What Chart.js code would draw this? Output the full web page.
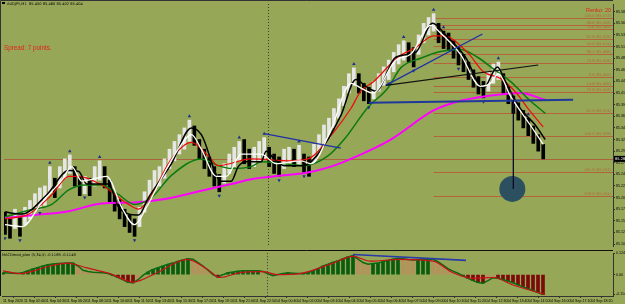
<!DOCTYPE html>
<html>
<head>
<meta charset="utf-8">
<script src="https://cdn.jsdelivr.net/npm/chart.js@4.4.0/dist/chart.umd.min.js"></script>
<style>
  body { margin: 0; background: #96a858; width: 625px; height: 304px; overflow: hidden; position: relative; }
  #main { position: absolute; left: 0; top: 0; }
  #osc { position: absolute; left: 0; top: 250px; }
</style>
</head>
<body>
<canvas id="main" width="625" height="250"></canvas>
<canvas id="osc" width="625" height="54"></canvas>
<script>
// bars, one per index
const highs = [
  85.170, 85.156, 85.176, 85.160, 85.180, 85.194, 85.208, 85.220, 85.224, 85.264,
  85.240, 85.264, 85.280, 85.288, 85.264, 85.244, 85.244, 85.240, 85.264, 85.276,
  85.264, 85.236, 85.210, 85.196, 85.176, 85.164, 85.156, 85.180, 85.212, 85.236,
  85.256, 85.264, 85.280, 85.300, 85.316, 85.330, 85.344, 85.360, 85.348, 85.320,
  85.300, 85.284, 85.264, 85.248, 85.270, 85.290, 85.304, 85.316, 85.320, 85.300,
  85.304, 85.316, 85.324, 85.304, 85.290, 85.284, 85.300, 85.304, 85.300, 85.308,
  85.290, 85.284, 85.310, 85.330, 85.350, 85.364, 85.384, 85.404, 85.430, 85.456,
  85.468, 85.456, 85.436, 85.428, 85.440, 85.456, 85.470, 85.484, 85.500, 85.516,
  85.524, 85.520, 85.510, 85.536, 85.560, 85.572, 85.580, 85.560, 85.544, 85.540,
  85.524, 85.510, 85.496, 85.480, 85.464, 85.450, 85.440, 85.460, 85.476, 85.480,
  85.456, 85.430, 85.410, 85.396, 85.380, 85.364, 85.348, 85.330, 85.310
];
const lows = [
  85.124, 85.116, 85.136, 85.120, 85.144, 85.156, 85.172, 85.176, 85.184, 85.210,
  85.200, 85.220, 85.240, 85.250, 85.224, 85.204, 85.208, 85.204, 85.224, 85.236,
  85.220, 85.190, 85.172, 85.156, 85.140, 85.128, 85.120, 85.140, 85.170, 85.196,
  85.216, 85.224, 85.240, 85.260, 85.276, 85.290, 85.300, 85.316, 85.308, 85.280,
  85.260, 85.244, 85.224, 85.212, 85.230, 85.250, 85.264, 85.276, 85.270, 85.260,
  85.264, 85.276, 85.280, 85.264, 85.250, 85.244, 85.260, 85.268, 85.264, 85.268,
  85.252, 85.244, 85.270, 85.290, 85.310, 85.324, 85.344, 85.364, 85.390, 85.416,
  85.432, 85.416, 85.400, 85.394, 85.404, 85.420, 85.432, 85.444, 85.460, 85.476,
  85.484, 85.480, 85.470, 85.496, 85.520, 85.536, 85.544, 85.520, 85.508, 85.504,
  85.488, 85.474, 85.460, 85.444, 85.428, 85.414, 85.406, 85.420, 85.436, 85.444,
  85.416, 85.394, 85.374, 85.360, 85.344, 85.328, 85.312, 85.296, 85.280
];

// moving averages as [bar index, price]
const maWhite = [[0,85.144],[3.4,85.140],[7.4,85.190],[11.4,85.236],[13.4,85.264],[15.4,85.234],[18.4,85.240],[20.4,85.244],[23.4,85.180],[26,85.144],[28.4,85.180],[31.4,85.240],[35.4,85.310],[37.4,85.330],[39.4,85.300],[42.4,85.244],[44.4,85.244],[47.4,85.290],[51.4,85.290],[54.4,85.270],[59.4,85.276],[61.4,85.270],[65.4,85.340],[69.4,85.436],[71.8,85.424],[73.8,85.416],[78.4,85.484],[81.4,85.496],[85.4,85.556],[87.4,85.540],[91.4,85.496],[95.4,85.430],[97.4,85.436],[99,85.456],[101.4,85.410],[105.4,85.350],[108,85.310]];
const maBlack = [[0,85.170],[3.4,85.166],[8.4,85.206],[12.8,85.256],[14.8,85.254],[16.4,85.228],[20.8,85.228],[22.8,85.180],[26.8,85.164],[28.8,85.200],[33.4,85.270],[37.4,85.344],[39.4,85.330],[43.4,85.234],[45.4,85.234],[46.8,85.264],[48.4,85.274],[51.4,85.274],[52.4,85.296],[54,85.280],[56,85.266],[60,85.266],[62.8,85.290],[67.4,85.370],[70.4,85.444],[72.4,85.430],[74.4,85.420],[78.4,85.490],[82.4,85.500],[85.8,85.560],[88.4,85.536],[92.4,85.490],[96,85.426],[98.8,85.470],[100.4,85.440],[103.4,85.384],[106.4,85.350],[108.4,85.320]];
const maRed = [[0,85.156],[4.8,85.166],[9.4,85.206],[12.8,85.244],[14.8,85.244],[19.4,85.226],[24.8,85.186],[26.8,85.176],[29.4,85.206],[33.4,85.280],[37.4,85.314],[40.8,85.286],[42.8,85.266],[49.4,85.280],[57.4,85.276],[60.8,85.280],[66,85.336],[69.4,85.384],[71.4,85.420],[74,85.440],[78.8,85.490],[82.4,85.510],[86,85.534],[88,85.534],[92.8,85.500],[96,85.460],[99.4,85.446],[102.8,85.414],[104.8,85.386],[108,85.346]];
const maGreen = [[0,85.160],[4.8,85.174],[9.4,85.186],[12.8,85.216],[16,85.226],[19.4,85.226],[22.8,85.206],[26,85.186],[29.4,85.200],[33.4,85.246],[39.4,85.280],[42.8,85.266],[45.4,85.260],[49.4,85.264],[51.4,85.274],[56,85.270],[60,85.266],[64.8,85.286],[68.2,85.322],[72.8,85.386],[76.8,85.426],[79.4,85.468],[83.4,85.488],[87.4,85.502],[91.4,85.506],[94.8,85.490],[98,85.466],[101.4,85.440],[105.4,85.400],[108.4,85.374]];
const maMagenta = [[0,85.158],[6,85.164],[12.8,85.172],[19.4,85.188],[26,85.190],[31.4,85.196],[39.4,85.214],[45.4,85.228],[49.4,85.238],[56,85.246],[60.8,85.252],[65.4,85.264],[69.4,85.280],[77.4,85.320],[86,85.380],[91.4,85.400],[96.8,85.410],[103.4,85.416],[108.4,85.402]];

const upFractals = [9, 13, 19, 37, 47, 52, 59, 70, 80, 86, 88, 99, 105];
const downFractals = [0, 3, 7, 16, 26, 43, 55, 60, 73, 77, 82, 91, 96];

const fibNames = ["100.0", "88.6", "78.6", "61.8", "50.0", "38.2", "23.6", "0.0", "14.6", "23.6", "61.8", "100.0", "161.8", "200.0"];
const fibPrices = [85.572, 85.556, 85.548, 85.528, 85.514, 85.496, 85.478, 85.450, 85.430, 85.418, 85.374, 85.328, 85.252, 85.204];
const fibStart = 86;

const yTickVals = [85.584, 85.560, 85.536, 85.512, 85.488, 85.464, 85.440, 85.416, 85.392, 85.368, 85.344, 85.320, 85.296, 85.272, 85.248, 85.224, 85.200, 85.176, 85.152, 85.128, 85.104];
const lastPrice = 85.280;
const sepIdx = 52.8;

const blueLine1 = [[52, 85.332], [67.4, 85.302]];
const blueLine2 = [[76.4, 85.432], [95.8, 85.538]];
const blackLine = [[76.4, 85.432], [107, 85.474]];
const supportLine = [[73, 85.396], [114, 85.402]];
const targetLine = [[102, 85.402], [102, 85.218]];
const targetCircle = [101.8, 85.218];

// oscillator
const hist = [
  0.010, 0.009, 0.008, 0.006, 0.012, 0.022, 0.033, 0.042, 0.050, 0.058,
  0.062, 0.064, 0.066, 0.067, 0.067, 0.050, 0.025, 0.018, 0.014, 0.012,
  0.010, 0.006, -0.005, -0.018, -0.030, -0.045, -0.048, -0.030, -0.005, 0.015,
  0.030, 0.040, 0.050, 0.060, 0.067, 0.078, 0.085, 0.093, 0.090, 0.070,
  0.050, 0.025, 0.000, -0.015, 0.000, 0.011, 0.015, 0.020, 0.022, 0.022,
  0.022, 0.022, 0.018, 0.005, -0.006, 0.000, 0.006, 0.010, 0.008, 0.006,
  0.006, 0.010, 0.022, 0.035, 0.050, 0.060, 0.072, 0.080, 0.092, 0.103,
  0.111, 0.090, 0.070, 0.061, 0.064, 0.067, 0.075, 0.082, 0.090, 0.095,
  0.092, 0.088, 0.085, 0.087, 0.089, 0.090, 0.089, 0.075, 0.055, 0.035,
  0.020, 0.008, -0.008, -0.022, -0.035, -0.046, -0.050, -0.035, -0.018, -0.022,
  -0.030, -0.038, -0.048, -0.060, -0.072, -0.082, -0.093, -0.105, -0.117
];
const signal = [[0,0.022],[3.4,0.006],[9.4,0.050],[12.8,0.067],[16.8,0.039],[21.4,0.006],[26,-0.044],[30.8,0.011],[36.8,0.089],[40.8,0.033],[43.4,-0.017],[47.4,0.011],[52,0.017],[54.8,0.000],[59.4,0.006],[66,0.067],[70,0.106],[73.4,0.078],[79.4,0.089],[86,0.078],[90,0.011],[94,-0.022],[98,-0.017],[102,-0.061],[108.4,-0.117]];
const oscTrend = [[70, 0.117], [92.6, 0.083]];
const oscTickVals = [0.1249, 0, -0.1148];
const oscTickText = ["0.1249", "0.00", "-0.1148"];

const dateLabels = ["11 Sep 2020", "11 Sep 02:40", "11 Sep 04:30", "11 Sep 06:20", "11 Sep 08:10", "11 Sep 10:00", "11 Sep 11:50", "11 Sep 13:40", "11 Sep 15:30", "11 Sep 17:20", "11 Sep 19:10", "11 Sep 21:00", "11 Sep 22:50", "14 Sep 00:40", "14 Sep 02:00", "14 Sep 03:10", "14 Sep 04:20", "14 Sep 05:30", "14 Sep 06:40", "14 Sep 07:50", "14 Sep 09:00", "14 Sep 10:10", "14 Sep 11:20", "14 Sep 12:30", "14 Sep 13:40", "14 Sep 14:50", "14 Sep 16:00", "14 Sep 17:10", "14 Sep 18:20"];

const xMin = -0.2, xMax = 122;
const bg = "#96a858";

function pts(arr) {
  return arr.map((p) => ({ x: p[0], y: p[1] }));
}

function line(chart, a, b, color, width) {
  let ctx = chart.ctx;
  ctx.beginPath();
  ctx.strokeStyle = color;
  ctx.lineWidth = width;
  ctx.moveTo(chart.scales.x.getPixelForValue(a[0]), chart.scales.y.getPixelForValue(a[1]));
  ctx.lineTo(chart.scales.x.getPixelForValue(b[0]), chart.scales.y.getPixelForValue(b[1]));
  ctx.stroke();
}

function separator(chart) {
  let ctx = chart.ctx;
  let x = Math.round(chart.scales.x.getPixelForValue(sepIdx)) + 0.5;
  ctx.save();
  ctx.setLineDash([1, 2]);
  ctx.strokeStyle = "#3a3a3a";
  ctx.lineWidth = 1;
  ctx.beginPath();
  ctx.moveTo(x, chart.chartArea.top);
  ctx.lineTo(x, chart.chartArea.bottom);
  ctx.stroke();
  ctx.restore();
}

let barColors = highs.map((h, i) => {
  if (i == 0) return "#000000";
  return h + lows[i] > highs[i - 1] + lows[i - 1] ? "#e6e6e6" : "#000000";
});

let histColors = hist.map((v, i) => {
  let prev = i > 0 ? hist[i - 1] : 0;
  if (v >= 0) return v >= prev ? "#0c5c10" : "#b8905c";
  return v < prev ? "#7c0a0a" : "#b8905c";
});

let mainDraw = {
  id: "mainDraw",
  beforeDraw(chart) {
    let ctx = chart.ctx;
    ctx.fillStyle = bg;
    ctx.fillRect(0, 0, chart.width, chart.height);
  },
  beforeDatasetsDraw(chart) {
    let ctx = chart.ctx;
    let a = chart.chartArea;
    // price line
    let py = Math.round(chart.scales.y.getPixelForValue(lastPrice)) + 0.5;
    ctx.strokeStyle = "#a8643a";
    ctx.lineWidth = 1;
    ctx.beginPath();
    ctx.moveTo(a.left, py);
    ctx.lineTo(a.right, py);
    ctx.stroke();
    // fibo levels
    let fx = chart.scales.x.getPixelForValue(fibStart);
    ctx.font = "3.6px 'DejaVu Sans'";
    ctx.textAlign = "right";
    ctx.textBaseline = "bottom";
    fibPrices.forEach((p, k) => {
      let y = Math.round(chart.scales.y.getPixelForValue(p)) + 0.5;
      ctx.strokeStyle = "#b4643a";
      ctx.beginPath();
      ctx.moveTo(fx, y);
      ctx.lineTo(a.right, y);
      ctx.stroke();
      ctx.fillStyle = "#b4643a";
      ctx.fillText(fibNames[k] + " (" + p.toFixed(3) + ")", a.right - 2, y - 0.5);
    });
    separator(chart);
  },
  afterDatasetsDraw(chart) {
    let ctx = chart.ctx;
    let a = chart.chartArea;
    line(chart, blueLine1[0], blueLine1[1], "#1f2fa8", 1.3);
    line(chart, blueLine2[0], blueLine2[1], "#1f2fa8", 1.3);
    line(chart, blackLine[0], blackLine[1], "#101010", 1.2);
    line(chart, supportLine[0], supportLine[1], "#20389a", 2);
    // target circle
    ctx.beginPath();
    ctx.fillStyle = "#2d5060";
    ctx.arc(chart.scales.x.getPixelForValue(targetCircle[0]), chart.scales.y.getPixelForValue(targetCircle[1]), 13, 0, Math.PI * 2);
    ctx.fill();
    line(chart, targetLine[0], targetLine[1], "#0a0a30", 1.3);

    // texts
    ctx.textBaseline = "alphabetic";
    ctx.textAlign = "left";
    ctx.fillStyle = "#000";
    ctx.fillRect(2, 2, 3, 2);
    ctx.font = "3.6px 'DejaVu Sans'";
    ctx.fillText("AUDJPY,M1  85.450 85.460 85.402 85.404", 7, 5);
    ctx.fillStyle = "#e41e1e";
    ctx.font = "6.3px 'Liberation Sans'";
    ctx.fillText("Spread: 7 points.", 4, 50);
    ctx.textAlign = "right";
    ctx.font = "5.5px 'Liberation Sans'";
    ctx.fillText("Renko: 20", a.right - 2, 12);

    // frame
    ctx.strokeStyle = "#333";
    ctx.lineWidth = 1;
    ctx.beginPath();
    ctx.moveTo(0.5, chart.height);
    ctx.lineTo(0.5, 0.5);
    ctx.lineTo(a.right, 0.5);
    ctx.stroke();
  },
  afterDraw(chart) {
    let ctx = chart.ctx;
    let a = chart.chartArea;
    let py = chart.scales.y.getPixelForValue(lastPrice);
    ctx.fillStyle = "#000";
    ctx.fillRect(a.right + 1, py - 3, 12, 6);
    ctx.fillStyle = "#fff";
    ctx.font = "3.6px 'DejaVu Sans'";
    ctx.textAlign = "left";
    ctx.textBaseline = "middle";
    ctx.fillText(lastPrice.toFixed(3), a.right + 2, py);
  }
};

let lineDs = (data, color, width, order) => ({
  type: "line",
  data: pts(data),
  borderColor: color,
  borderWidth: width,
  pointRadius: 0,
  tension: 0.35,
  cubicInterpolationMode: "monotone",
  order: order
});

var ctx = document.getElementById("main").getContext("2d");
var mainChart = new Chart(ctx, {
  type: "bar",
  data: {
    datasets: [
      {
        label: "bars",
        data: highs.map((h, i) => ({ x: i, y: [lows[i], h] })),
        backgroundColor: barColors,
        barThickness: 3,
        order: 10
      },
      lineDs(maMagenta, "#ff00ff", 2, 6),
      lineDs(maGreen, "#0c7a10", 1.5, 5),
      lineDs(maRed, "#ee0a0a", 1.2, 4),
      lineDs(maBlack, "#000000", 1.5, 3),
      lineDs(maWhite, "#ffffff", 1.3, 2),
      {
        type: "line",
        showLine: false,
        data: upFractals.map((i) => ({ x: i, y: highs[i] + 0.008 })),
        pointStyle: "triangle",
        pointRadius: 2,
        backgroundColor: "#1d2f8a",
        borderWidth: 0,
        order: 0
      },
      {
        type: "line",
        showLine: false,
        data: downFractals.map((i) => ({ x: i, y: lows[i] - 0.008 })),
        pointStyle: "triangle",
        rotation: 180,
        pointRadius: 2,
        backgroundColor: "#1d2f8a",
        borderWidth: 0,
        order: 0
      }
    ]
  },
  options: {
    responsive: false,
    animation: false,
    layout: { padding: { left: 2, top: 0, right: 0, bottom: 0 } },
    plugins: { legend: { display: false }, tooltip: { enabled: false } },
    scales: {
      x: { type: "linear", min: xMin, max: xMax, offset: false, display: false },
      y: {
        position: "right",
        min: 85.1,
        max: 85.6,
        afterFit: (s) => { s.width = 12; },
        afterBuildTicks: (s) => { s.ticks = yTickVals.map((v) => ({ value: v })); },
        ticks: { font: { size: 3.6 }, color: "#000", padding: 1, callback: (v) => v.toFixed(3) },
        grid: { drawOnChartArea: false, tickLength: 2, color: "#333" },
        border: { display: true, color: "#333" }
      }
    }
  },
  plugins: [mainDraw]
});

let oscDraw = {
  id: "oscDraw",
  beforeDraw(chart) {
    let ctx = chart.ctx;
    ctx.fillStyle = bg;
    ctx.fillRect(0, 0, chart.width, chart.height);
  },
  beforeDatasetsDraw(chart) {
    separator(chart);
  },
  afterDatasetsDraw(chart) {
    let ctx = chart.ctx;
    let a = chart.chartArea;
    line(chart, oscTrend[0], oscTrend[1], "#2a3aa8", 1.6);
    ctx.strokeStyle = "#111";
    ctx.lineWidth = 1;
    ctx.beginPath();
    ctx.moveTo(0, 0.5);
    ctx.lineTo(a.right, 0.5);
    ctx.moveTo(0.5, 0);
    ctx.lineTo(0.5, a.bottom);
    ctx.stroke();
    ctx.fillStyle = "#000";
    ctx.font = "3.6px 'DejaVu Sans'";
    ctx.textAlign = "left";
    ctx.textBaseline = "alphabetic";
    ctx.fillText("MACDmod_plan (5,34,5) -0.1169 -0.1148", 2, 6);
  }
};

var ctx2 = document.getElementById("osc").getContext("2d");
var oscChart = new Chart(ctx2, {
  type: "bar",
  data: {
    datasets: [
      {
        label: "hist",
        data: hist.map((v, i) => ({ x: i, y: v })),
        backgroundColor: histColors,
        barThickness: 3,
        order: 5
      },
      {
        type: "line",
        data: hist.map((v, i) => ({ x: i, y: v })),
        borderColor: "#0a6a10",
        borderWidth: 1.5,
        pointRadius: 0,
        order: 2
      },
      {
        type: "line",
        data: pts(signal),
        borderColor: "#c8101a",
        borderWidth: 1.2,
        pointRadius: 0,
        tension: 0.3,
        cubicInterpolationMode: "monotone",
        order: 1
      }
    ]
  },
  options: {
    responsive: false,
    animation: false,
    layout: { padding: { left: 2, top: 0, right: 0, bottom: 0 } },
    plugins: { legend: { display: false }, tooltip: { enabled: false } },
    scales: {
      x: {
        type: "linear",
        min: xMin,
        max: xMax,
        offset: false,
        afterFit: (s) => { s.height = 8; },
        afterBuildTicks: (s) => { s.ticks = dateLabels.map((l, k) => ({ value: k * 4.2 })); },
        ticks: {
          font: { size: 3.6 },
          color: "#000",
          autoSkip: false,
          maxRotation: 0,
          align: "start",
          padding: 1,
          callback: (v, i) => dateLabels[i]
        },
        grid: { drawOnChartArea: false, tickLength: 2, color: "#333" },
        border: { display: true, color: "#333" }
      },
      y: {
        position: "right",
        min: -0.125,
        max: 0.125,
        afterFit: (s) => { s.width = 12; },
        afterBuildTicks: (s) => { s.ticks = oscTickVals.map((v) => ({ value: v })); },
        ticks: {
          font: { size: 3.6 },
          color: "#000",
          padding: 1,
          callback: (v) => oscTickText[oscTickVals.indexOf(v)]
        },
        grid: { drawOnChartArea: false, tickLength: 2, color: "#333" },
        border: { display: true, color: "#333" }
      }
    }
  },
  plugins: [oscDraw]
});
</script>
</body>
</html>
